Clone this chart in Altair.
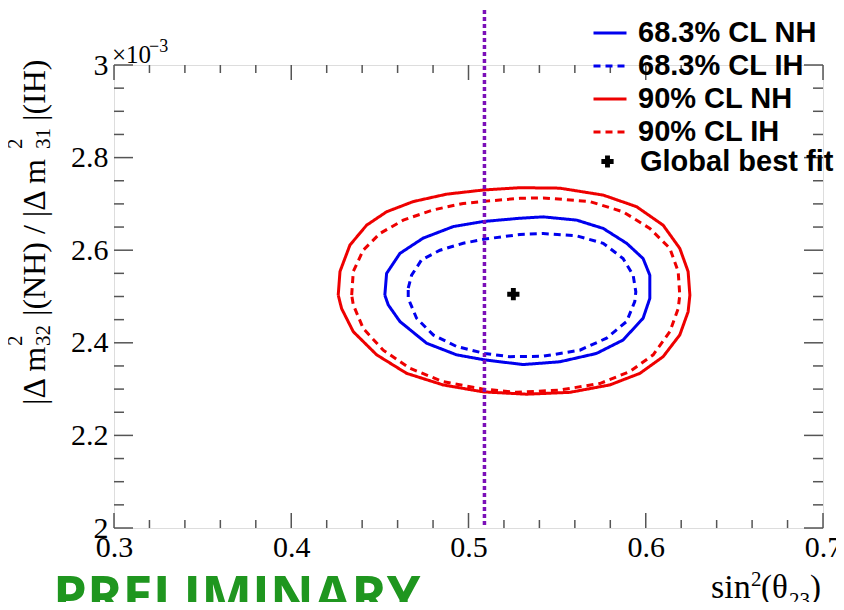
import altair as alt
import pandas as pd

# ---------------- data ----------------
series_names = ["68.3% CL NH", "68.3% CL IH", "90% CL NH", "90% CL IH"]

nh68_x = [0.4528, 0.4538, 0.4613, 0.4744, 0.4914, 0.5083, 0.5290, 0.5421, 0.5610, 0.5760,
          0.5892, 0.5985, 0.6023, 0.6023, 0.5985, 0.5872, 0.5722, 0.5515, 0.5308, 0.5092,
          0.4933, 0.4764, 0.4613, 0.4547]
nh68_y = [2.503, 2.550, 2.593, 2.626, 2.651, 2.662, 2.669, 2.672, 2.665, 2.647,
          2.615, 2.582, 2.546, 2.496, 2.453, 2.406, 2.377, 2.359, 2.353, 2.363,
          2.374, 2.399, 2.446, 2.482]

ih68_x = [0.4660, 0.4679, 0.4735, 0.4839, 0.4970, 0.5092, 0.5290, 0.5421, 0.5610, 0.5760,
          0.5872, 0.5929, 0.5944, 0.5938, 0.5892, 0.5779, 0.5628, 0.5421, 0.5233, 0.5092,
          0.4933, 0.4801, 0.4707, 0.4660]
ih68_y = [2.518, 2.546, 2.579, 2.600, 2.615, 2.624, 2.634, 2.636, 2.631, 2.615,
          2.582, 2.546, 2.510, 2.489, 2.446, 2.410, 2.384, 2.371, 2.370, 2.377,
          2.392, 2.417, 2.453, 2.496]

nh90_x = [0.4265, 0.4275, 0.4331, 0.4425, 0.4538, 0.4688, 0.4876, 0.5083, 0.5290, 0.5515,
          0.5760, 0.5948, 0.6098, 0.6192, 0.6239, 0.6249, 0.6239, 0.6192, 0.6098, 0.5967,
          0.5797, 0.5572, 0.5328, 0.5083, 0.4857, 0.4651, 0.4482, 0.4350, 0.4284]
nh90_y = [2.503, 2.554, 2.611, 2.654, 2.683, 2.705, 2.721, 2.730, 2.735, 2.734,
          2.719, 2.694, 2.654, 2.604, 2.554, 2.503, 2.467, 2.417, 2.370, 2.334,
          2.309, 2.293, 2.289, 2.294, 2.309, 2.334, 2.374, 2.424, 2.474]

ih90_x = [0.4341, 0.4350, 0.4406, 0.4500, 0.4632, 0.4801, 0.4970, 0.5102, 0.5290, 0.5421,
          0.5685, 0.5872, 0.6023, 0.6136, 0.6183, 0.6192, 0.6183, 0.6136, 0.6042, 0.5910,
          0.5741, 0.5515, 0.5271, 0.5083, 0.4857, 0.4669, 0.4519, 0.4406, 0.4350]
ih90_y = [2.503, 2.554, 2.600, 2.636, 2.665, 2.687, 2.701, 2.706, 2.712, 2.713,
          2.705, 2.683, 2.647, 2.604, 2.554, 2.503, 2.474, 2.424, 2.374, 2.338,
          2.312, 2.298, 2.293, 2.300, 2.316, 2.345, 2.384, 2.431, 2.482]

best_fit_x = [0.5253]
best_fit_y = [2.505]
best_fit_label = ["Global best fit"]

maximal_mixing_x = [0.509]

x_major = [0.3, 0.4, 0.5, 0.6, 0.7]
x_minor = [0.32, 0.34, 0.36, 0.38, 0.42, 0.44, 0.46, 0.48, 0.52, 0.54, 0.56, 0.58,
           0.62, 0.64, 0.66, 0.68]
y_major = [2.0, 2.2, 2.4, 2.6, 2.8, 3.0]
y_minor = [2.05, 2.1, 2.15, 2.25, 2.3, 2.35, 2.45, 2.5, 2.55, 2.65, 2.7, 2.75,
           2.85, 2.9, 2.95]

# ---------------- build tables ----------------
rows = []
for name, xs_, ys_ in [(series_names[0], nh68_x, nh68_y), (series_names[1], ih68_x, ih68_y),
                       (series_names[2], nh90_x, nh90_y), (series_names[3], ih90_x, ih90_y)]:
    pts = list(zip(xs_, ys_)) + [(xs_[0], ys_[0])]
    for i, (a, b) in enumerate(pts):
        rows.append({"x": a, "y": b, "series": name, "i": i})
contours = pd.DataFrame(rows)
best = pd.DataFrame({"x": best_fit_x, "y": best_fit_y, "fit": best_fit_label})

W, H = 709, 463
AX = "#555555"
xs = alt.Scale(domain=[0.3, 0.7], nice=False, zero=False)
ys = alt.Scale(domain=[2.0, 3.0], nice=False, zero=False)

x_axis = alt.Axis(values=x_major, format=".1f", title=None, ticks=False, tickSize=0,
                  domain=False, grid=False, labelFont="Liberation Serif",
                  labelFontSize=30, labelColor="black", labelPadding=4,
                  labelFlush=False, labelOverlap=False)
y_axis = alt.Axis(values=y_major, format="~g", title=None, ticks=False, tickSize=0,
                  domain=False, grid=False, labelFont="Liberation Serif",
                  labelFontSize=30, labelColor="black", labelPadding=6,
                  labelFlush=False, labelOverlap=False)

line_legend = alt.Legend(orient="none", legendX=478, legendY=-50, title=None,
                         symbolType="stroke", symbolSize=1089, symbolStrokeWidth=3,
                         labelFont="Liberation Sans", labelFontWeight="bold",
                         labelFontSize=29, labelColor="black", labelOffset=10,
                         rowPadding=0, padding=0, labelLimit=400)

contour_layer = alt.Chart(contours).mark_line(strokeWidth=3).encode(
    x=alt.X("x:Q", scale=xs, axis=x_axis),
    y=alt.Y("y:Q", scale=ys, axis=y_axis),
    color=alt.Color("series:N", scale=alt.Scale(domain=series_names,
                    range=["#0000ee", "#0000ee", "#ee0000", "#ee0000"]), legend=line_legend),
    strokeDash=alt.StrokeDash("series:N", scale=alt.Scale(domain=series_names,
                    range=[[1, 0], [7, 5], [1, 0], [7, 5]]), legend=line_legend),
    detail="series:N",
    order="i:Q",
)

mix_line = alt.Chart(pd.DataFrame({"x": maximal_mixing_x})).mark_rule(
    color="#7b10b8", strokeWidth=3.5, strokeDash=[4, 3]).encode(
    x=alt.X("x:Q", scale=xs, axis=x_axis), y=alt.value(-62), y2=alt.value(H))

best_layer = alt.Chart(best).mark_point(filled=True, size=150, color="black", opacity=1).encode(
    x=alt.X("x:Q", scale=xs, axis=x_axis),
    y=alt.Y("y:Q", scale=ys, axis=y_axis),
    shape=alt.Shape("fit:N", scale=alt.Scale(domain=best_fit_label, range=["cross"]),
                    legend=alt.Legend(orient="none", legendX=479, legendY=82, title=None,
                                      symbolSize=150, symbolFillColor="black",
                                      symbolStrokeColor="black", symbolStrokeWidth=0,
                                      symbolOpacity=1,
                                      labelFont="Liberation Sans", labelFontWeight="bold",
                                      labelFontSize=29, labelColor="black", labelOffset=18,
                                      padding=0, labelLimit=400)),
)


def xticks(vals, y0, y1):
    return alt.Chart(pd.DataFrame({"x": vals})).mark_rule(color=AX, strokeWidth=1.5).encode(
        x=alt.X("x:Q", scale=xs, axis=x_axis), y=alt.value(y0), y2=alt.value(y1))


def yticks(vals, x0, x1):
    return alt.Chart(pd.DataFrame({"y": vals})).mark_rule(color=AX, strokeWidth=1.5).encode(
        y=alt.Y("y:Q", scale=ys, axis=y_axis), x=alt.value(x0), x2=alt.value(x1))


tick_layers = [
    xticks(x_major, H, H - 15), xticks(x_minor, H, H - 8),
    xticks(x_major, 0, 15), xticks(x_minor, 0, 8),
    yticks(y_major, 0, 19), yticks(y_minor, 0, 10),
    yticks(y_major, W, W - 19), yticks(y_minor, W, W - 10),
]


def label(txt, x, y, size, font="Liberation Serif", angle=0, weight="normal", color="black"):
    return alt.Chart(pd.DataFrame({"t": [txt]})).mark_text(
        align="left", baseline="alphabetic", font=font, fontSize=size,
        fontWeight=weight, color=color, angle=angle).encode(
        x=alt.value(x), y=alt.value(y), text="t:N")


texts = [
    # x10^-3 multiplier
    label("×10", -2, -2, 25),
    label("−3", 35, -13, 18),
    # y title (rotated)
    label("|Δ m", -69, 340, 32, angle=270),
    label("2", -92, 281, 21, angle=270),
    label("32", -64, 281, 21, angle=270),
    label("|(NH) / |Δ m", -69, 251, 32, angle=270),
    label("2", -92, 84, 21, angle=270),
    label("31", -64, 84, 21, angle=270),
    label("|(IH)", -69, 56, 32, angle=270),
    # x title
    label("sin", 597, 533, 34),
    label("2", 637, 521, 21),
    label("(θ", 647, 533, 33),
    label("23", 675, 542, 21),
    label(")", 696, 533, 33),
    # preliminary stamp
    label("PRELIMINARY", -61, 550, 54, font="Open Sans", weight="bold", color="#1f961f"),
]

chart = alt.layer(contour_layer, *tick_layers, mix_line, best_layer, *texts).properties(
    width=W, height=H,
    autosize=alt.AutoSizeParams(type="none"),
    padding={"left": 106, "top": 57, "right": 13, "bottom": 74},
).configure_view(stroke=AX, strokeWidth=2).configure(background="white")

chart.save("out.html", embed_options={"renderer": "svg", "actions": False})
